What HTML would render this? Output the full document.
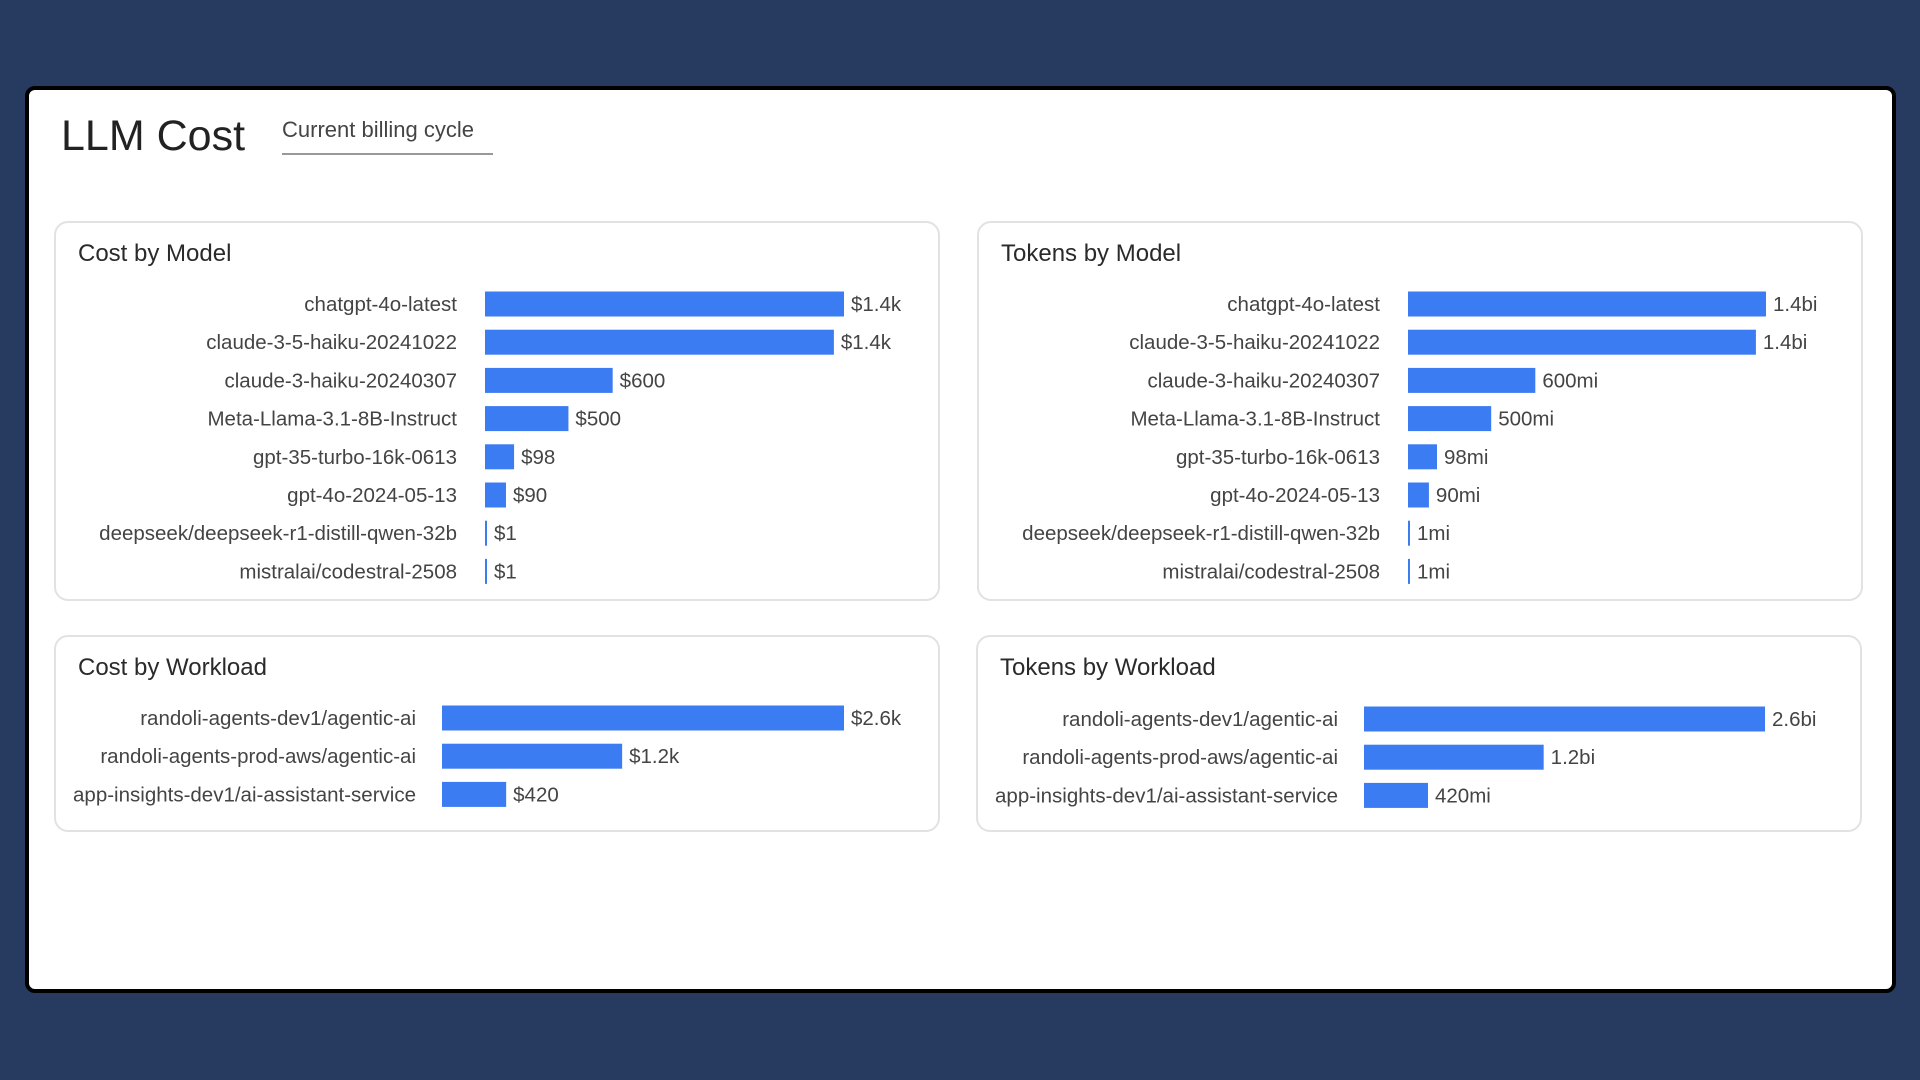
<!DOCTYPE html>
<html><head><meta charset="utf-8"><style>
html,body{margin:0;padding:0;width:1920px;height:1080px;background:#273a60;overflow:hidden;font-family:"Liberation Sans",sans-serif}
#card{position:absolute;left:25px;top:86px;width:1871px;height:907px;background:#fff;border:4px solid #000;border-radius:10px;box-sizing:border-box}
#title{position:absolute;left:61px;top:112px;font-size:43px;color:#222;margin:0;font-weight:normal}
#cycle{position:absolute;left:282px;top:117px;width:211px;font-size:22px;color:#444;border-bottom:2px solid #999;padding-bottom:10px}
.panel{position:absolute;border:2px solid #e2e2e2;border-radius:14px;background:#fff;box-sizing:border-box}
svg{position:absolute;left:0;top:0}
</style></head><body>
<div id="card"></div>
<h1 id="title">LLM Cost</h1>
<div id="cycle">Current billing cycle</div>
<div class="panel" style="left:54px;top:221px;width:886px;height:380px"></div>
<div class="panel" style="left:977px;top:221px;width:886px;height:380px"></div>
<div class="panel" style="left:54px;top:635px;width:886px;height:197px"></div>
<div class="panel" style="left:976px;top:635px;width:886px;height:197px"></div>
<svg id="chart" width="1920" height="1080" xmlns="http://www.w3.org/2000/svg"></svg>
<script>
const modelNames = ["chatgpt-4o-latest","claude-3-5-haiku-20241022","claude-3-haiku-20240307","Meta-Llama-3.1-8B-Instruct","gpt-35-turbo-16k-0613","gpt-4o-2024-05-13","deepseek/deepseek-r1-distill-qwen-32b","mistralai/codestral-2508"];
const costByModel = [1420,1380,505,330,115,83,4,4];
const costByModelLabels = ["$1.4k","$1.4k","$600","$500","$98","$90","$1","$1"];
const tokensByModel = [1420,1380,505,330,115,83,4,4];
const tokensByModelLabels = ["1.4bi","1.4bi","600mi","500mi","98mi","90mi","1mi","1mi"];
const workloadNames = ["randoli-agents-dev1/agentic-ai","randoli-agents-prod-aws/agentic-ai","app-insights-dev1/ai-assistant-service"];
const costByWorkload = [2600,1165,415];
const costByWorkloadLabels = ["$2.6k","$1.2k","$420"];
const tokensByWorkload = [2600,1165,415];
const tokensByWorkloadLabels = ["2.6bi","1.2bi","420mi"];

const svg = document.getElementById('chart');
const NS = 'http://www.w3.org/2000/svg';
function mk(tag, attrs){const e=document.createElementNS(NS,tag);for(const k in attrs)e.setAttribute(k,attrs[k]);svg.appendChild(e);return e;}
function chart(key, title, tx, ty, cats, vals, labels, x0, labelRight, y0, step, maxW){
  const t = mk('text',{x:tx,y:ty,'font-size':24,fill:'#2a2a2a'});
  t.textContent = title;
  
  
  const maxV = Math.max(...vals);
  const xs = v => v / maxV * maxW;
  cats.forEach((c,i)=>{
    const cy = y0 + i*step;
    const l = mk('text',{x:labelRight,y:cy+7,'font-size':20.5,fill:'#444','text-anchor':'end'});
    l.textContent = c;
    
    
    const w = Math.max(2, xs(vals[i]));
    const b = mk('rect',{x:x0,y:cy-12.5,width:w,height:25,fill:'#3b7cf2'});
    
    
    const v = mk('text',{x:x0+w+7,y:cy+7,'font-size':20.5,fill:'#444'});
    v.textContent = labels[i];
    
    
  });
}
chart('cost-by-model','Cost by Model',78,261,modelNames,costByModel,costByModelLabels,485,457,304,38.2,359);
chart('tokens-by-model','Tokens by Model',1001,261,modelNames,tokensByModel,tokensByModelLabels,1408,1380,304,38.2,358);
chart('cost-by-workload','Cost by Workload',78,675,workloadNames,costByWorkload,costByWorkloadLabels,442,416,718,38.2,402);
chart('tokens-by-workload','Tokens by Workload',1000,675,workloadNames,tokensByWorkload,tokensByWorkloadLabels,1364,1338,719,38.2,401);
</script>
</body></html>
